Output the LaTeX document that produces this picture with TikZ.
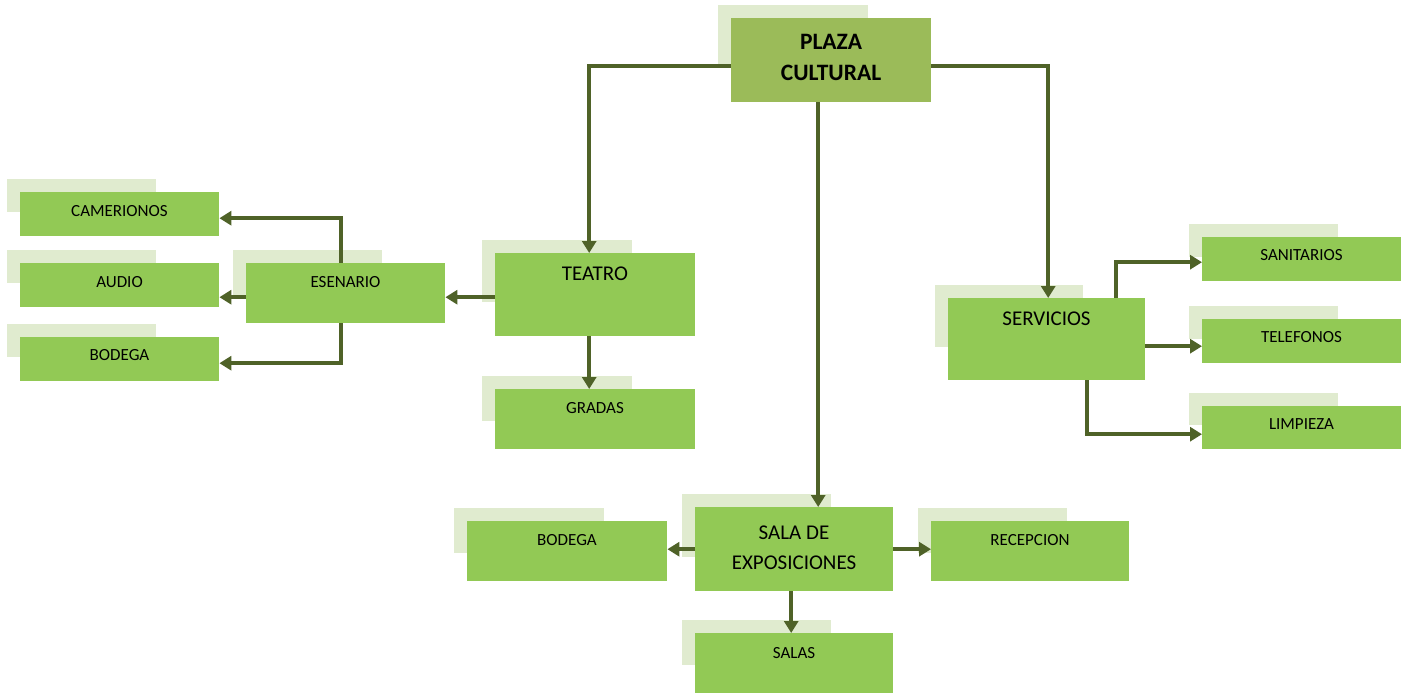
\documentclass[tikz,border=0pt]{standalone}
\usepackage{fontspec}
\setmainfont{Carlito}
\usetikzlibrary{arrows.meta}
\definecolor{mainfill}{HTML}{9BBB59}
\definecolor{boxfill}{HTML}{92C955}
\definecolor{shadecol}{HTML}{E0EBCF}
\definecolor{linkcol}{HTML}{4F6228}
\tikzset{
  gbox/.style={draw=none, inner sep=0pt, anchor=north west},
  link/.style={draw=linkcol, line width=3.6pt, -{Triangle[length=12pt,width=14pt]}},
  leaf/.style={inner sep=0pt, font=\fontsize{17}{20}\selectfont},
  mid/.style={inner sep=0pt, align=center, font=\fontsize{21}{30}\selectfont},
  top/.style={inner sep=0pt, align=center, font=\bfseries\fontsize{23.5}{31}\selectfont},
}
% name, x1, y1, x2, y2, fill colour
\newcommand\gboxdraw[6]{%
  \fill[shadecol] ({#2-13},{#3-13}) rectangle ({#2-13+0.75*(#4-#2)},{#3-13+0.75*(#5-#3)});
  \node[gbox, fill=#6, minimum width={#4pt-#2pt}, minimum height={#5pt-#3pt}] (#1) at (#2,#3) {};
}
\begin{document}
\begin{tikzpicture}[x=1pt,y=-1pt]
\useasboundingbox[fill=white] (0,0) rectangle (1408,693);
% boxes
\gboxdraw{plaza}{731}{18}{931}{102}{mainfill}
\gboxdraw{camerionos}{20}{192}{219}{236}{boxfill}
\gboxdraw{audio}{20}{263}{219}{307}{boxfill}
\gboxdraw{bodegaa}{20}{337}{219}{381}{boxfill}
\gboxdraw{esenario}{246}{263}{445}{323}{boxfill}
\gboxdraw{teatro}{495}{253}{695}{336}{boxfill}
\gboxdraw{gradas}{495}{389}{695}{449}{boxfill}
\gboxdraw{servicios}{948}{298}{1145}{380}{boxfill}
\gboxdraw{sanitarios}{1202}{237}{1401}{281}{boxfill}
\gboxdraw{telefonos}{1202}{319}{1401}{363}{boxfill}
\gboxdraw{limpieza}{1202}{406}{1401}{449}{boxfill}
\gboxdraw{sala}{695}{507}{893}{591}{boxfill}
\gboxdraw{bodegab}{467}{521}{667}{581}{boxfill}
\gboxdraw{recepcion}{931}{521}{1129}{581}{boxfill}
\gboxdraw{salas}{695}{633}{893}{693}{boxfill}
% texts
\node[top] (tplaza) at (831,57.5) {PLAZA\\CULTURAL};
\node[leaf] (tcam) at (119.5,211) {CAMERIONOS};
\node[leaf] (taud) at (119.5,282) {AUDIO};
\node[leaf] (tboda) at (119.5,355) {BODEGA};
\node[leaf] (tesc) at (345.5,282) {ESENARIO};
\node[mid] (ttea) at (595,274) {TEATRO};
\node[leaf] (tgra) at (595,408) {GRADAS};
\node[mid] (tser) at (1046.5,319) {SERVICIOS};
\node[leaf] (tsan) at (1301.5,255) {SANITARIOS};
\node[leaf] (ttel) at (1301.5,337) {TELEFONOS};
\node[leaf] (tlim) at (1301.5,424) {LIMPIEZA};
\node[mid] (tsala) at (794,548) {SALA DE\\EXPOSICIONES};
\node[leaf] (tbodb) at (567,540) {BODEGA};
\node[leaf] (trec) at (1030,540) {RECEPCION};
\node[leaf] (tsalas) at (794,653) {SALAS};
% connectors
\draw[link] ([yshift=-6pt]plaza.west) -| ([xshift=-6pt]teatro.north);
\draw[link] ([yshift=-6pt]plaza.east) -| ([xshift=1.5pt]servicios.north);
\draw[link] ([xshift=-13pt]plaza.south) -- ([xshift=-13pt]plaza.south |- sala.north);
\draw[link] ([yshift=-2.5pt]teatro.west) -- ([yshift=-2.5pt]teatro.west -| esenario.east);
\draw[link] ([xshift=-6pt]teatro.south) -- ([xshift=-6pt]gradas.north);
\draw[link] ([xshift=-4.5pt]esenario.north) |- ([yshift=-4pt]camerionos.east);
\draw[link] ([yshift=-4pt]esenario.west) -- ([yshift=-4pt]esenario.west -| audio.east);
\draw[link] ([xshift=-4.5pt]esenario.south) |- ([yshift=-4pt]bodegaa.east);
\draw[link] ([xshift=69.5pt]servicios.north) |- ([yshift=-3pt]sanitarios.west);
\draw[link] ([yshift=-7pt]servicios.east) -- ([yshift=-7pt]servicios.east -| telefonos.west);
\draw[link] ([xshift=40.5pt]servicios.south) |- ([yshift=-6.5pt]limpieza.west);
\draw[link] (sala.west) -- (sala.west -| bodegab.east);
\draw[link] (sala.east) -- (sala.east -| recepcion.west);
\draw[link] ([xshift=-3pt]sala.south) -- ([xshift=-3pt]salas.north);
\end{tikzpicture}
\end{document}
